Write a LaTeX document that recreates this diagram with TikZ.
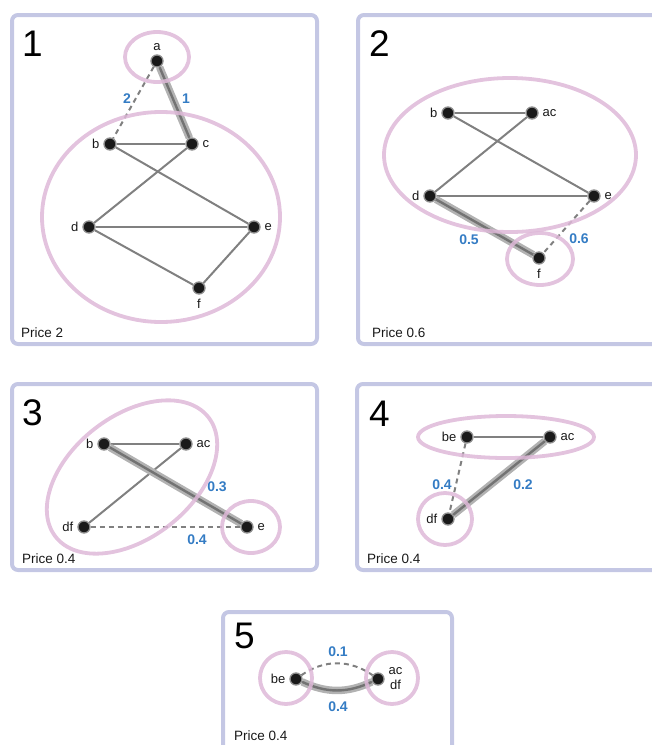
\documentclass[tikz,border=0pt]{standalone}
\usepackage{fontspec}
\setmainfont{Liberation Sans}
\usetikzlibrary{backgrounds}
\definecolor{frameblue}{RGB}{196,199,228}
\definecolor{grppink}{RGB}{222,184,216}
\definecolor{edgegray}{RGB}{128,128,128}
\definecolor{wblue}{RGB}{52,124,196}
\tikzset{
  panel/.style={draw=frameblue, line width=4pt, rounded corners=6pt},
  vtx/.style={circle, fill=black!90, draw=black!45, line width=1.3pt, inner sep=0pt, minimum size=12pt},
  edge/.style={draw=edgegray, line width=2pt},
  cand/.style={edge, dash pattern=on 5pt off 4pt},
  best/.style={preaction={draw=black!30, line width=7.5pt}, draw=black!55, line width=2.4pt},
  grp/.style={draw=grppink, line width=3.8pt, opacity=0.85},
  wt/.style={text=wblue, font=\bfseries\fontsize{14}{16}\selectfont},
  num/.style={font=\fontsize{37}{40}\selectfont, anchor=base west, inner sep=0pt},
  price/.style={font=\fontsize{13.5}{15}\selectfont, anchor=base west, inner sep=0pt, text=black!90},
  every label/.style={font=\fontsize{13}{15}\selectfont, text=black!90},
  label distance=0.5pt
}
\begin{document}
\begin{tikzpicture}[x=1pt, y=-1pt]
  \useasboundingbox (0,0) rectangle (652,745);
  \clip (0,0) rectangle (652,745);

  % Schritt 1
  \node[vtx, label=above:a] (a1) at (157,61) {};
  \node[vtx, label=left:b] (b1) at (110,144) {};
  \node[vtx, label=right:c] (c1) at (192,144) {};
  \node[vtx, label=left:d] (d1) at (89,227) {};
  \node[vtx, label=right:e] (e1) at (254,227) {};
  \node[vtx, label=below:f] (f1) at (199,288) {};
  \begin{scope}[on background layer]
    \draw[panel] (12,15) rectangle (317,344);
    \draw[cand] (a1) -- (b1);
    \draw[best] (a1) -- (c1);
    \draw[edge] (b1) -- (c1);
    \draw[edge] (c1) -- (d1);
    \draw[edge] (b1) -- (e1);
    \draw[edge] (d1) -- (e1);
    \draw[edge] (d1) -- (f1);
    \draw[edge] (e1) -- (f1);
  \end{scope}
  \node[wt] (w1ab) at (127,99) {2};
  \node[wt] (w1ac) at (186,99) {1};
  \draw[grp] (157,57) ellipse [x radius=32, y radius=25];
  \draw[grp] (161,217) ellipse [x radius=119, y radius=105];
  \node[num] (n1) at (22,56) {1};
  \node[price] (p1) at (21,337) {Price 2};

  % Schritt 2
  \node[vtx, label=left:b] (b2) at (448,113) {};
  \node[vtx, label=right:ac] (ac2) at (532,113) {};
  \node[vtx, label=left:d] (d2) at (430,196) {};
  \node[vtx, label=right:e] (e2) at (594,196) {};
  \node[vtx, label=below:f] (f2) at (539,258) {};
  \begin{scope}[on background layer]
    \draw[panel] (358,15) rectangle (700,344);
    \draw[edge] (b2) -- (ac2);
    \draw[edge] (b2) -- (e2);
    \draw[edge] (ac2) -- (d2);
    \draw[edge] (d2) -- (e2);
    \draw[best] (d2) -- (f2);
    \draw[cand] (e2) -- (f2);
  \end{scope}
  \node[wt] (w2df) at (469,240) {0.5};
  \node[wt] (w2ef) at (579,239) {0.6};
  \draw[grp] (510,155) ellipse [x radius=126, y radius=77];
  \draw[grp] (540,259) ellipse [x radius=33, y radius=26];
  \node[num] (n2) at (369,56) {2};
  \node[price] (p2) at (372,337) {Price 0.6};

  % Schritt 3
  \node[vtx, label=left:b] (b3) at (104,444) {};
  \node[vtx, label=right:ac] (ac3) at (186,444) {};
  \node[vtx, label=left:df] (df3) at (84,527) {};
  \node[vtx, label=right:e] (e3) at (247,527) {};
  \begin{scope}[on background layer]
    \draw[panel] (12,384) rectangle (317,570);
    \draw[edge] (b3) -- (ac3);
    \draw[edge] (ac3) -- (df3);
    \draw[best] (b3) -- (e3);
    \draw[cand] (df3) -- (e3);
  \end{scope}
  \node[wt] (w3be) at (217,487) {0.3};
  \node[wt] (w3de) at (197,540) {0.4};
  \draw[grp, rotate around={38:(132,477)}] (132,477) ellipse [x radius=97, y radius=61];
  \draw[grp] (251,527) ellipse [x radius=29, y radius=26];
  \node[num] (n3) at (22,425) {3};
  \node[price] (p3) at (22,563) {Price 0.4};

  % Schritt 4
  \node[vtx, label=left:be] (be4) at (467,437) {};
  \node[vtx, label=right:ac] (ac4) at (550,437) {};
  \node[vtx, label=left:df] (df4) at (448,519) {};
  \begin{scope}[on background layer]
    \draw[panel] (357,384) rectangle (700,570);
    \draw[edge] (be4) -- (ac4);
    \draw[cand] (be4) -- (df4);
    \draw[best] (ac4) -- (df4);
  \end{scope}
  \node[wt] (w4bd) at (442,485) {0.4};
  \node[wt] (w4ad) at (523,485) {0.2};
  \draw[grp] (506,437) ellipse [x radius=88, y radius=21];
  \draw[grp] (445,519) ellipse [x radius=27, y radius=26];
  \node[num] (n4) at (369,426) {4};
  \node[price] (p4) at (367,563) {Price 0.4};

  % Schritt 5
  \node[vtx, label=left:be] (be5) at (296,679) {};
  \node[vtx, label={[align=center]right:ac\\df}] (acdf5) at (378,679) {};
  \begin{scope}[on background layer]
    \draw[panel] (223,612) rectangle (452,790);
    \draw[cand] (be5) to[bend left=35] (acdf5);
    \draw[best] (be5) to[bend right=25] (acdf5);
  \end{scope}
  \node[wt] (w5a) at (338,652) {0.1};
  \node[wt] (w5b) at (338,707) {0.4};
  \draw[grp] (286,678) circle [radius=26];
  \draw[grp] (392,678) circle [radius=26];
  \node[num] (n5) at (234,648) {5};
  \node[price] (p5) at (234,740) {Price 0.4};
\end{tikzpicture}
\end{document}
